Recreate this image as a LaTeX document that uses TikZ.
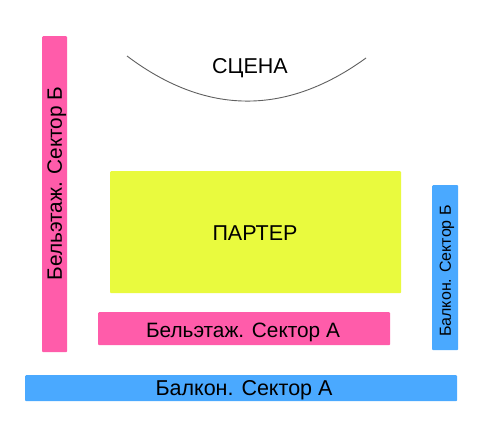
\documentclass[tikz,border=0pt]{standalone}
\usepackage{fontspec}
\setmainfont{Liberation Sans}
\definecolor{pinkc}{HTML}{FF5CAA}
\definecolor{yellowc}{HTML}{E9FA3E}
\definecolor{bluec}{HTML}{4AA9FF}
\definecolor{arcc}{HTML}{606060}
\begin{document}
\begin{tikzpicture}[x=1pt,y=-1pt,
  zone/.style={draw=none,rounded corners=1pt,inner sep=0pt,anchor=north west},
  big/.style={font=\fontsize{21.5}{24}\selectfont,inner sep=0pt,text height=15.4pt,text depth=0pt},
  mid/.style={font=\fontsize{20.8}{24}\selectfont,inner sep=0pt,text height=14.9pt,text depth=0pt},
  small/.style={font=\fontsize{16}{19}\selectfont,inner sep=0pt,text height=11.5pt,text depth=0pt}]
\useasboundingbox[fill=white] (0,0) rectangle (500,432);
% zones
\node[zone,fill=pinkc,minimum width=25pt,minimum height=316pt] (bb) at (42,36) {};
\node[zone,fill=yellowc,minimum width=291pt,minimum height=122pt] (parter) at (110,171) {};
\node[zone,fill=pinkc,minimum width=292pt,minimum height=33pt] (ba) at (98,312) {};
\node[zone,fill=bluec,minimum width=26pt,minimum height=165pt] (balb) at (432,185) {};
\node[zone,fill=bluec,minimum width=432pt,minimum height=26pt] (bala) at (25,375) {};
% stage
\coordinate (sL) at (127,56);
\coordinate (sR) at (366,58);
\draw[arcc,line width=0.9pt] (sL) .. controls (206,115.5) and (286,116) .. (sR);
% labels
\node[big] (tscena) at (250,65.5) {СЦЕНА};
\node[big] (tparter) at (255,232.5) {ПАРТЕР};
\node[mid] (tba) at (243,330.5) {Бельэтаж. Сектор А};
\node[big] (tbala) at (244,387.5) {Балкон. Сектор А};
\node[mid,rotate=90] (tbb) at (54.5,183.5) {Бельэтаж. Сектор Б};
\node[small,rotate=90] (tbalb) at (445,271) {Балкон. Сектор Б};
\end{tikzpicture}
\end{document}
